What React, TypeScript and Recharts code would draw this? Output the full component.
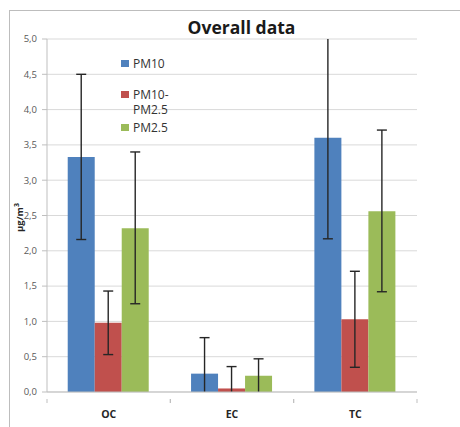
import React from "react";
import { BarChart, Bar, XAxis, YAxis, CartesianGrid, ErrorBar, Legend, Label } from "recharts";

const categories = ["OC", "EC", "TC"];
const seriesNames = ["PM10", "PM10-PM2.5", "PM2.5"];
const pm10 = [3.33, 0.26, 3.6];
const pm10Low = [2.16, -0.24, 2.17];
const pm10High = [4.5, 0.77, 5.03];
const coarse = [0.98, 0.05, 1.03];
const coarseLow = [0.53, -0.26, 0.35];
const coarseHigh = [1.43, 0.36, 1.71];
const pm25 = [2.32, 0.23, 2.56];
const pm25Low = [1.25, -0.01, 1.42];
const pm25High = [3.4, 0.47, 3.71];
const yTicks = [0, 0.5, 1, 1.5, 2, 2.5, 3, 3.5, 4, 4.5, 5];

const colors = ["#4f81bd", "#c0504d", "#9bbb59"];

const data = categories.map((c, i) => ({
  cat: c,
  pm10: pm10[i],
  pm10Err: [pm10[i] - pm10Low[i], pm10High[i] - pm10[i]],
  coarse: coarse[i],
  coarseErr: [coarse[i] - coarseLow[i], coarseHigh[i] - coarse[i]],
  pm25: pm25[i],
  pm25Err: [pm25[i] - pm25Low[i], pm25High[i] - pm25[i]],
}));

const W = 460;
const H = 427;
const M = { top: 39, right: 43, left: 0, bottom: 5 };
const Y_W = 47;
const X_H = 30;
const plotW = W - M.left - M.right - Y_W;
const plotH = H - M.top - M.bottom - X_H;
const band = plotW / categories.length;

const XTick = (props: any) => {
  const { x, y, payload } = props;
  return (
    <g>
      <line x1={x - band / 2} x2={x - band / 2} y1={y - 1} y2={y + 3} stroke="#bfbfbf" />
      <line x1={x + band / 2} x2={x + band / 2} y1={y - 1} y2={y + 3} stroke="#bfbfbf" />
      <text x={x} y={y + 18} textAnchor="middle" fontSize={10.5} fontWeight="bold" fill="#262626" fontFamily="Open Sans">
        {payload.value}
      </text>
    </g>
  );
};

const YLabel = (props: any) => {
  const vb = props.viewBox || {};
  const cx = 20;
  const cy = vb.y + vb.height / 2 + 2;
  return (
    <g transform={`translate(${cx},${cy}) rotate(-90)`}>
      <rect x={-13} y={-7} width={26} height={16} fill="#fff" />
      <text x={0} y={3} textAnchor="middle" fontSize={9.5} fontWeight="bold" fill="#262626" fontFamily="Open Sans">
        µg/m<tspan dy={-4} fontSize={7}>3</tspan>
      </text>
    </g>
  );
};

const LegendContent = () => {
  const items = [
    { label: ["PM10"], gap: 16 },
    { label: ["PM10-", "PM2.5"], gap: 3 },
    { label: ["PM2.5"], gap: 0 },
  ];
  return (
    <div style={{ fontFamily: "Open Sans", fontSize: 12, color: "#333", lineHeight: "15px", textAlign: "left" }}>
      {items.map((it, i) => (
        <div key={i} style={{ display: "flex", alignItems: "flex-start", marginBottom: it.gap }}>
          <span style={{ display: "inline-block", width: 8, height: 7, background: colors[i], marginTop: 4, marginRight: 4 }} />
          <span>
            {it.label.map((l, j) => (
              <div key={j}>{l}</div>
            ))}
          </span>
        </div>
      ))}
    </div>
  );
};

export default function App() {
  return (
    <div style={{ position: "absolute", left: 0, top: 0, width: W, height: H, overflow: "hidden", background: "#fff" }}>
      <style>{`.recharts-errorBars { clip-path: url(#plotClip); }`}</style>
      <svg width={0} height={0} style={{ position: "absolute" }}>
        <defs>
          <clipPath id="plotClip" clipPathUnits="userSpaceOnUse">
            <rect x={M.left + Y_W} y={M.top} width={plotW} height={plotH} />
          </clipPath>
        </defs>
      </svg>
      <div style={{ position: "absolute", left: 9, top: 10, width: W, height: H, borderLeft: "1.5px solid #bdbdbd", borderTop: "1.5px solid #bdbdbd" }} />
      <div style={{ position: "absolute", left: 0, width: 483, top: 15, textAlign: "center", fontFamily: "Open Sans", fontWeight: "bold", fontSize: 17.5, color: "#1a1a1a" }}>
        Overall data
      </div>
      <div style={{ position: "absolute", left: 0, top: 0 }}>
        <BarChart width={W} height={H} data={data} margin={M} barCategoryGap="16.8%" barGap={0}>
          <CartesianGrid vertical={false} stroke="#d9d9d9" />
          <XAxis dataKey="cat" tick={<XTick />} tickLine={false} axisLine={{ stroke: "#bfbfbf" }} height={X_H} interval={0} />
          <YAxis
            width={Y_W}
            domain={[0, 5]}
            ticks={yTicks}
            allowDataOverflow
            interval={0}
            tickFormatter={(v: number) => v.toFixed(1).replace(".", ",")}
            tick={{ fontSize: 9.5, fill: "#595959", fontFamily: "Open Sans" }}
            tickLine={{ stroke: "#bfbfbf" }}
            tickSize={5}
            tickMargin={5}
            axisLine={{ stroke: "#bfbfbf" }}
          >
            <Label content={<YLabel />} />
          </YAxis>
          <Legend
            content={<LegendContent />}
            layout="vertical"
            verticalAlign="middle"
            align="center"
            wrapperStyle={{ left: 121, top: 56, width: 80 }}
          />
          <Bar dataKey="pm10" name={seriesNames[0]} fill={colors[0]} isAnimationActive={false}>
            <ErrorBar dataKey="pm10Err" direction="y" width={5} stroke="#262626" strokeWidth={1.4} />
          </Bar>
          <Bar dataKey="coarse" name={seriesNames[1]} fill={colors[1]} isAnimationActive={false}>
            <ErrorBar dataKey="coarseErr" direction="y" width={5} stroke="#262626" strokeWidth={1.4} />
          </Bar>
          <Bar dataKey="pm25" name={seriesNames[2]} fill={colors[2]} isAnimationActive={false}>
            <ErrorBar dataKey="pm25Err" direction="y" width={5} stroke="#262626" strokeWidth={1.4} />
          </Bar>
        </BarChart>
      </div>
    </div>
  );
}
